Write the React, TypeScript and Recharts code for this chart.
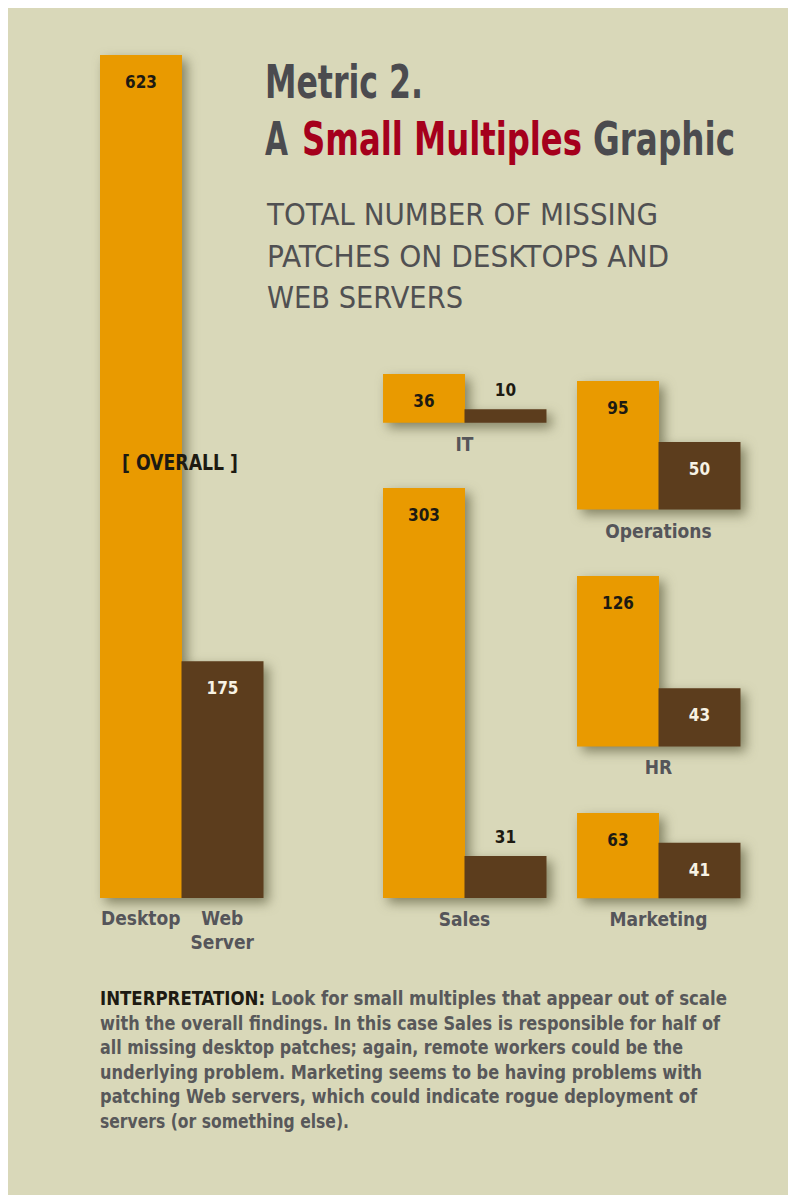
import { Bar, BarChart, Cell, LabelList, XAxis, YAxis } from 'recharts';

const groups = ['Overall', 'IT', 'Sales', 'Operations', 'HR', 'Marketing'];
const desktopPatches = [623, 36, 303, 95, 126, 63];
const webServerPatches = [175, 10, 31, 50, 43, 41];
const barNames = ['Desktop', 'Web Server'];

const titleParts = ['A', 'Small Multiples', 'Graphic'];
const subtitleLines = ['TOTAL NUMBER OF MISSING', 'PATCHES ON DESKTOPS AND', 'WEB SERVERS'];
const noteLines = [
  ' Look for small multiples that appear out of scale',
  'with the overall findings. In this case Sales is responsible for half of',
  'all missing desktop patches; again, remote workers could be the',
  'underlying problem. Marketing seems to be having problems with',
  'patching Web servers, which could indicate rogue deployment of',
  'servers (or something else).',
];

// layout (panel coords)
const PX_PER_PATCH = 843 / 623;
const CHART_W = 163;
const slots = [
  { left: 92, base: 890 },
  { left: 375, base: 415 },
  { left: 375, base: 890 },
  { left: 569, base: 502 },
  { left: 569, base: 738 },
  { left: 569, base: 890 },
];
const titlePartX = [257, 294, 585];
const titlePartW = [23, 280, 142];
const noteWidths = [627, 620, 583, 602, 597, 249];
const subtitleWidths = [391, 402, 196];

const PANEL = '#d9d8b9';
const ORANGE = '#e99a00';
const BROWN = '#5c3d1d';
const INK = '#1d1a12';
const GRAY = '#4b4b4f';
const COND = "'Liberation Sans Narrow', 'DejaVu Sans Condensed', 'Roboto Condensed', Roboto, sans-serif";
// title set smaller and stretched upright, so glyph boxes stay narrow
const TITLE_SIZE = 36;
const TITLE_STRETCH = 47 / 36;

const css = `
body { margin: 0; overflow: hidden; }
.recharts-surface { overflow: visible; }
.recharts-bar-rectangles { filter: drop-shadow(5px 5px 6px rgba(60, 60, 30, 0.55)); }
`;

function renderValue(props: any) {
  const { x, y, width, height, value, index } = props;
  const cx = Number(x) + Number(width) / 2;
  const isWeb = index === 1 || Number(x) > 40;
  let fill = INK;
  let ty = Number(y) + 33;
  if (isWeb) {
    if (Number(height) < 45) ty = Number(y) - 13;
    else fill = '#f7f2e4';
  }
  return (
    <text x={cx} y={ty} textAnchor="middle" fill={fill} fontFamily={COND} fontWeight={700} fontSize={17}>
      {value}
    </text>
  );
}

function CategoryTick({ x, y, payload }: any) {
  const words = String(payload.value).split(' ');
  return (
    <text x={x} y={y} textAnchor="middle" fill="#55555a" fontFamily={COND} fontWeight={700} fontSize={19}>
      {words.map((w, i) => (
        <tspan key={i} x={x} dy={i === 0 ? 27 : 24}>
          {w}
        </tspan>
      ))}
    </text>
  );
}

function Multiple({ index }: { index: number }) {
  const data = barNames.map((name, i) => ({
    name,
    value: i === 0 ? desktopPatches[index] : webServerPatches[index],
  }));
  const max = Math.max(desktopPatches[index], webServerPatches[index]);
  const plotH = max * PX_PER_PATCH;
  const isOverall = index === 0;
  const axisH = isOverall ? 60 : 0;
  const slot = slots[index];

  return (
    <div style={{ position: 'absolute', left: slot.left, top: slot.base - plotH }}>
      <BarChart
        width={CHART_W}
        height={plotH + axisH}
        data={data}
        margin={{ top: 0, right: 0, bottom: 0, left: 0 }}
        barCategoryGap={0}
        barGap={0}
      >
        <XAxis
          dataKey="name"
          hide={!isOverall}
          height={axisH}
          axisLine={false}
          tickLine={false}
          tickSize={0}
          tickMargin={0}
          interval={0}
          tick={<CategoryTick />}
        />
        <YAxis hide domain={[0, max]} />
        <Bar dataKey="value" isAnimationActive={false}>
          {data.map((_, i) => (
            <Cell key={i} fill={i === 0 ? ORANGE : BROWN} />
          ))}
          <LabelList dataKey="value" content={renderValue} />
        </Bar>
      </BarChart>
    </div>
  );
}

export default function App() {
  return (
    <div style={{ width: 788, height: 1195, boxSizing: 'border-box', padding: '8px 0 0 8px', background: '#fff' }}>
      <style>{css}</style>
      <div style={{ position: 'relative', width: 780, height: 1187, background: PANEL, overflow: 'hidden' }}>
        {groups.map((_, i) => (
          <Multiple key={i} index={i} />
        ))}

        <svg width={780} height={1187} style={{ position: 'absolute', left: 0, top: 0, pointerEvents: 'none' }}>
          {/* title */}
          <text
            x={0}
            y={0}
            transform={`translate(257,90) scale(1,${TITLE_STRETCH})`}
            fill={GRAY}
            fontFamily={COND}
            fontWeight={700}
            fontSize={TITLE_SIZE}
            textLength={158}
            lengthAdjust="spacingAndGlyphs"
          >
            Metric 2.
          </text>
          {titleParts.map((part, i) => (
            <text
              key={part}
              x={0}
              y={0}
              transform={`translate(${titlePartX[i]},147) scale(1,${TITLE_STRETCH})`}
              fill={i === 1 ? '#a5001c' : GRAY}
              fontFamily={COND}
              fontWeight={700}
              fontSize={TITLE_SIZE}
              textLength={titlePartW[i]}
              lengthAdjust="spacingAndGlyphs"
            >
              {part}
            </text>
          ))}

          {subtitleLines.map((line, i) => (
            <text
              key={line}
              x={259}
              y={217 + i * 41.5}
              fill="#505052"
              fontFamily={COND}
              fontSize={30}
              textLength={subtitleWidths[i]}
              lengthAdjust="spacingAndGlyphs"
            >
              {line}
            </text>
          ))}

          <text x={114} y={462} fill={INK} fontFamily={COND} fontWeight={700} fontSize={21} textLength={116} lengthAdjust="spacingAndGlyphs">
            [ OVERALL ]
          </text>

          {groups.slice(1).map((g, k) => {
            const i = k + 1;
            return (
              <text
                key={g}
                x={slots[i].left + CHART_W / 2}
                y={slots[i].base + 28}
                textAnchor="middle"
                fill="#55555a"
                fontFamily={COND}
                fontWeight={700}
                fontSize={19}
              >
                {g}
              </text>
            );
          })}

          {noteLines.map((line, i) => (
            <text
              key={i}
              x={92}
              y={997 + i * 24.5}
              fill="#58585a"
              fontFamily={COND}
              fontWeight={700}
              fontSize={19}
              textLength={noteWidths[i]}
              lengthAdjust="spacingAndGlyphs"
            >
              {i === 0 && <tspan fill={INK}>INTERPRETATION:</tspan>}
              {line}
            </text>
          ))}
        </svg>
      </div>
    </div>
  );
}
